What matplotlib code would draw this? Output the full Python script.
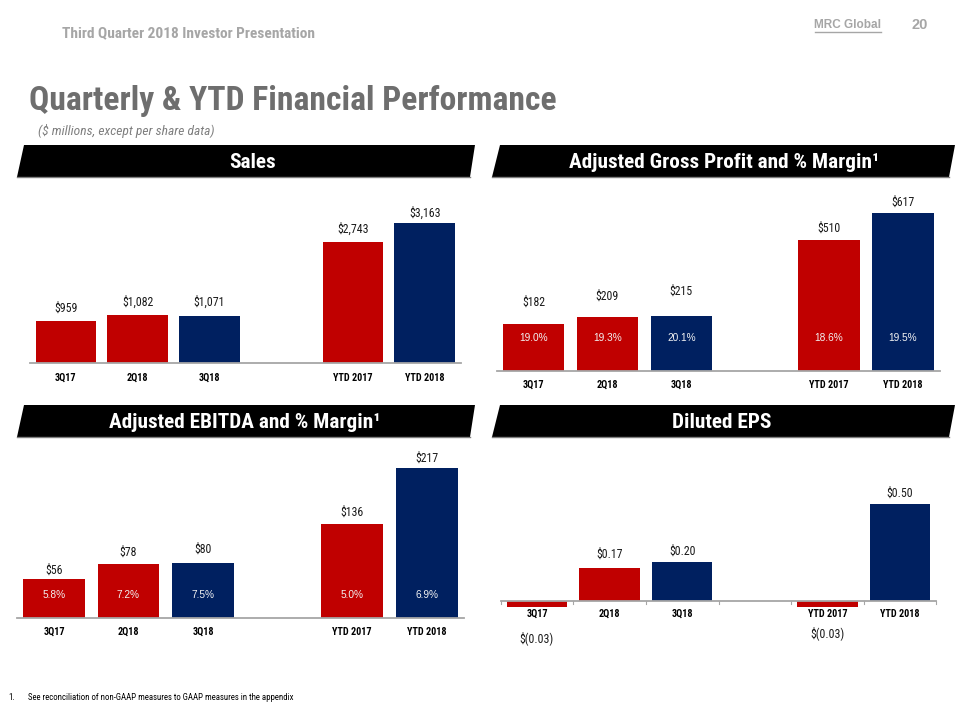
import matplotlib
matplotlib.use('Agg')
import matplotlib.pyplot as plt
from matplotlib.patches import Polygon
from matplotlib.lines import Line2D
from matplotlib import font_manager

# ---------------- data ----------------
categories = ['3Q17', '2Q18', '3Q18', 'YTD 2017', 'YTD 2018']
sales = [959, 1082, 1071, 2743, 3163]
gross_profit = [182, 209, 215, 510, 617]
gp_margin = [19.0, 19.3, 20.1, 18.6, 19.5]
ebitda = [56, 78, 80, 136, 217]
ebitda_margin = [5.8, 7.2, 7.5, 5.0, 6.9]
eps = [-0.03, 0.17, 0.20, -0.03, 0.50]
slots = [0, 1, 2, 4, 5]          # slot 3 left empty as a gap

RED = '#C00000'
NAVY = '#002060'
bar_colors = [RED, RED, NAVY, RED, NAVY]

# ---------------- fonts ----------------
available = {f.name for f in font_manager.fontManager.ttflist}
NARROW = 'Roboto Condensed' if 'Roboto Condensed' in available else 'Liberation Sans'
FAM = [NARROW, 'Liberation Sans', 'DejaVu Sans']
WIDE = ['Liberation Sans', 'DejaVu Sans']
plt.rcParams['font.family'] = FAM

W, H = 960, 720
fig = plt.figure(figsize=(9.6, 7.2), dpi=100)
fig.patch.set_facecolor('white')


def fx(x):
    return x / W


def fy(y):
    return 1 - y / H


def ftext(x, y, s, **kw):
    fig.text(fx(x), fy(y), s, **kw)


# ---------------- header ----------------
ftext(62, 33, 'Third Quarter 2018 Investor Presentation', fontsize=11.1,
      fontweight='bold', color='#A6A6A6', va='center', ha='left')
ftext(848, 25, 'MRC Global', fontsize=8.5, fontweight='bold', color='#A6A6A6',
      va='center', ha='center', family=WIDE)
fig.add_artist(Line2D([fx(815), fx(881)], [fy(32), fy(32)], color='#A6A6A6',
                      lw=1.0, transform=fig.transFigure))
ftext(920, 25, '20', fontsize=10.5, fontweight='bold', color='#A6A6A6',
      va='center', ha='center', family=WIDE)

ftext(29, 101, 'Quarterly & YTD Financial Performance', fontsize=24.2,
      fontweight='bold', color='#6E6E6E', va='center', ha='left')
ftext(38, 131, '($ millions, except per share data)', fontsize=9.7,
      style='italic', color='#7F7F7F', va='center', ha='left')

ftext(8, 698, '1.', fontsize=6.4, color='#000000', va='center', ha='left')
ftext(28, 698, 'See reconciliation of non-GAAP measures to GAAP measures in the appendix',
      fontsize=6.3, color='#000000', va='center', ha='left')


# ---------------- banners ----------------
def banner(pts, text, tx, ty):
    poly = Polygon([(fx(x), fy(y)) for x, y in pts], closed=True,
                   facecolor='black', edgecolor='none', transform=fig.transFigure)
    fig.add_artist(poly)
    (x0, y0), (x1, y1) = pts[3], pts[2]
    fig.add_artist(Line2D([fx(x0), fx(x1)], [fy(y0), fy(y1)], color='#7F7F7F',
                          lw=1.0, transform=fig.transFigure))
    ftext(tx, ty, text, fontsize=15.3, fontweight='bold', color='white',
          va='center', ha='center')


banner([(24, 145), (475, 145), (470, 177), (17, 177)], 'Sales', 253, 162)
banner([(500, 145), (955, 145), (949, 177), (492, 177)],
       'Adjusted Gross Profit and % Margin\u00b9', 724, 162)
banner([(24, 405), (475, 405), (470, 437), (17, 437)],
       'Adjusted EBITDA and % Margin\u00b9', 245, 422)
banner([(500, 405), (955, 405), (949, 437), (492, 437)], 'Diluted EPS', 722, 422)


# ---------------- panels ----------------
PX2PT = 0.72


def panel(left, right, top, base, bottom, scale, values, fmt, label_off,
          tick_off, width, pct=None, pct_off=None, neg_off=None, ticks=False):
    ax = fig.add_axes([fx(left), fy(bottom), (right - left) / W, (bottom - top) / H])
    ax.set_xlim(-0.5, 5.5)
    ax.set_ylim(-(bottom - base) * scale, (base - top) * scale)
    ax.axis('off')
    ax.bar(slots, values, width=width, color=bar_colors, zorder=2,
           edgecolor='none')
    ax.plot([-0.5, 5.5], [0, 0], color='#A6A6A6', lw=1.3, zorder=3,
            clip_on=False)
    if ticks:
        for b in [-0.5, 0.5, 1.5, 2.5, 3.5, 4.5, 5.5]:
            ax.plot([b, b], [0, -3 * scale], color='#A6A6A6', lw=0.8,
                    clip_on=False, zorder=3)
    for i, (s, v) in enumerate(zip(slots, values)):
        if v >= 0:
            ax.annotate(fmt(v), xy=(s, v), xytext=(0, label_off[i] * PX2PT),
                        textcoords='offset points', ha='center', va='center',
                        fontsize=8.6, color='#1A1A1A')
        else:
            ax.annotate(fmt(v), xy=(s, 0), xytext=(0, -neg_off[i] * PX2PT),
                        textcoords='offset points', ha='center', va='center',
                        fontsize=8.6, color='#1A1A1A')
        ax.annotate(categories[i], xy=(s, 0), xytext=(0, -tick_off * PX2PT),
                    textcoords='offset points', ha='center', va='center',
                    fontsize=7.3, fontweight='bold', color='#000000')
        if pct is not None:
            ax.annotate(f'{pct[i]:.1f}%', xy=(s, 0), xytext=(0, pct_off * PX2PT),
                        textcoords='offset points', ha='center', va='center',
                        fontsize=7.3, color='#F2F2F2', zorder=4,
                        family=WIDE)
    return ax


def money0(v):
    return f'${v:,.0f}'


def money2(v):
    return f'${v:.2f}' if v >= 0 else f'$({abs(v):.2f})'


# Sales
panel(30, 460.5, 190, 363, 363, 3163 / 140, sales, money0,
      [12, 13, 13, 12, 10], 15, 0.84)
# Adjusted gross profit
panel(496.5, 940, 190, 371, 371, 617 / 158, gross_profit, money0,
      [22, 21, 25, 12, 11], 14, 0.83, pct=gp_margin, pct_off=33)
# Adjusted EBITDA
panel(16.7, 464, 445, 618, 618, 217 / 150, ebitda, money0,
      [9, 12, 13, 12, 10], 14, 0.83, pct=ebitda_margin, pct_off=23)
# Diluted EPS
panel(500.7, 936.3, 470, 601, 650, 0.5 / 97, eps, money2,
      [0, 14, 11, 0, 11], 13, 0.83, neg_off=[37, 0, 0, 32, 0], ticks=True)

fig.savefig('out.png', dpi=100, facecolor='white')
